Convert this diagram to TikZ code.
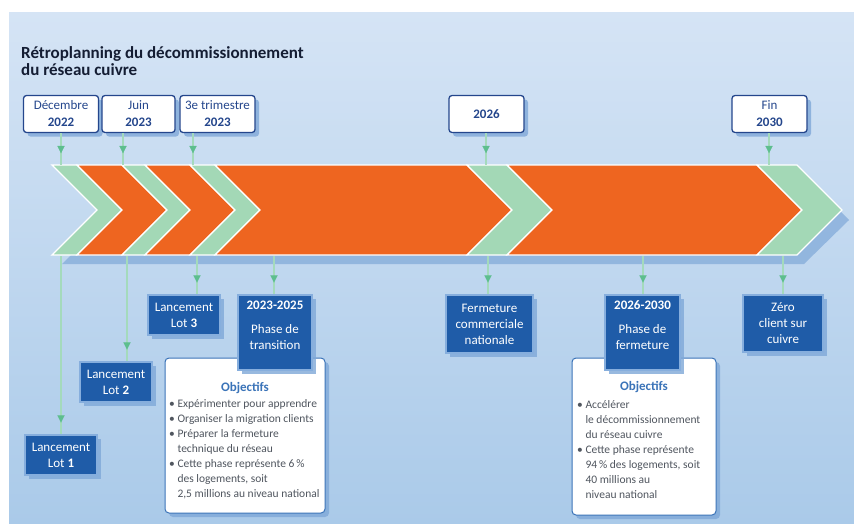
\documentclass[tikz,border=0pt]{standalone}
\usepackage{fontspec}
\setmainfont{Carlito}
\usetikzlibrary{shadows,arrows.meta,calc}
\definecolor{bgtop}{HTML}{D5E4F5}
\definecolor{bgbot}{HTML}{AACAE9}
\definecolor{orangeseg}{HTML}{EE6520}
\definecolor{greenseg}{HTML}{A3D8B6}
\definecolor{navy}{HTML}{24468C}
\definecolor{boxblue}{HTML}{1F5CA8}
\definecolor{boxedge}{HTML}{86AEDD}
\definecolor{shadowblue}{HTML}{7FA8D8}
\definecolor{arrowgreen}{HTML}{A4DABC}
\definecolor{headgreen}{HTML}{5DBE8E}
\definecolor{titlecol}{HTML}{141D33}
\definecolor{objblue}{HTML}{3A73B8}
\definecolor{bodygray}{HTML}{50565F}
\newcommand\chevseg[3]{\fill[#3,draw=white,line width=1.3pt,line join=miter] (#1,165) -- (#2,165) -- (#2+45,210) -- (#2,255) -- (#1,255) -- (#1+45,210) -- cycle;}
\tikzset{
  datebox/.style={draw=navy, fill=white, rounded corners=3pt, line width=1.3pt,
    minimum width=75pt, minimum height=37pt, align=center, text=navy, inner sep=0pt,
    font=\fontsize{13}{17}\selectfont,
    drop shadow={shadow xshift=4pt, shadow yshift=-4pt, fill=shadowblue, opacity=0.8}},
  bluebox/.style={draw=boxedge, fill=boxblue, line width=1.2pt, align=center, text=white,
    inner sep=0pt, font=\fontsize{13}{16}\selectfont,
    drop shadow={shadow xshift=4pt, shadow yshift=-4pt, fill=shadowblue, opacity=0.8}},
  objbox/.style={draw=objblue, fill=white, rounded corners=4pt, line width=1pt, inner sep=0pt,
    drop shadow={shadow xshift=4pt, shadow yshift=-4pt, fill=shadowblue, opacity=0.8}},
  objhead/.style={font=\bfseries\fontsize{13}{15}\selectfont, text=objblue, inner sep=0pt},
  objlist/.style={anchor=north west, align=left, font=\fontsize{11.5}{15}\selectfont, text=bodygray, inner sep=0pt},
  tickline/.style={draw=arrowgreen, line width=1.8pt},
  tickhead/.style={draw=headgreen, line width=0.1pt, fill=headgreen},
}
\newcommand\bul{\textbullet\ }
\newcommand\bulsp{\phantom{\textbullet\ }}
\begin{document}
\begin{tikzpicture}[x=1pt,y=-1pt]
\useasboundingbox (0,0) rectangle (854,523);
\fill[white] (0,0) rectangle (854,523);
\shade[top color=bgtop, bottom color=bgbot] (9,12) rectangle (854,523);

% title
\node[anchor=north west, align=left, font=\bfseries\fontsize{17}{17}\selectfont, text=titlecol, inner sep=0pt] (title) at (21,46) {Rétroplanning du décommissionnement\\du réseau cuivre};

% band shadow
\fill[shadowblue, opacity=0.7] (62,175) -- (804,175) -- (849,220) -- (804,264) -- (62,264) -- (107,220) -- cycle;

% chevrons
\chevseg{52}{77}{greenseg}
\chevseg{77}{122}{orangeseg}
\chevseg{122}{145}{greenseg}
\chevseg{145}{190}{orangeseg}
\chevseg{190}{215}{greenseg}
\chevseg{215}{467}{orangeseg}
\chevseg{467}{507}{greenseg}
\chevseg{507}{757}{orangeseg}
\chevseg{757}{797}{greenseg}

% band anchor coordinates
\coordinate (a1) at (61,165);
\coordinate (a2) at (123,165);
\coordinate (a3) at (193,165);
\coordinate (a4) at (486,165);
\coordinate (a5) at (769,165);
\coordinate (b1) at (61,256);
\coordinate (b2) at (127,256);
\coordinate (b3) at (197,256);
\coordinate (b4) at (274,256);
\coordinate (b5) at (488,256);
\coordinate (b6) at (643,256);
\coordinate (b7) at (783,256);

% top date boxes
\node[datebox] (d1) at (61,114) {Décembre\\\textbf{2022}};
\node[datebox, minimum width=73pt] (d2) at (138.5,114) {Juin\\\textbf{2023}};
\node[datebox] (d3) at (217.5,114) {3e trimestre\\\textbf{2023}};
\node[datebox] (d4) at (486.5,114) {\textbf{2026}};
\node[datebox] (d5) at (769.5,114) {Fin\\\textbf{2030}};

% objectives boxes (behind phase boxes)
\node[objbox, minimum width=160pt, minimum height=155pt] (o1) at (245,435.5) {};
\node[objbox, minimum width=144pt, minimum height=157pt] (o2) at (644,436.5) {};
\node[objhead] (h1) at (245,388) {Objectifs};
\node[objhead] (h2) at (644,387) {Objectifs};
\node[objlist] (l1) at (169,399) {\bul Expérimenter pour apprendre\\
\bul Organiser la migration clients\\
\bul Préparer la fermeture\\
\bulsp technique du réseau\\
\bul Cette phase représente 6\,\%\\
\bulsp des logements, soit\\
\bulsp 2,5 millions au niveau national};
\node[objlist] (l2) at (577,400) {\bul Accélérer\\
\bulsp le décommissionnement\\
\bulsp du réseau cuivre\\
\bul Cette phase représente\\
\bulsp 94\,\% des logements, soit\\
\bulsp 40 millions au\\
\bulsp niveau national};

% blue milestone boxes
\node[bluebox, minimum width=72pt, minimum height=40pt] (lot1) at (61,455) {Lancement\\Lot \textbf{1}};
\node[bluebox, minimum width=72pt, minimum height=40pt] (lot2) at (116,382) {Lancement\\Lot \textbf{2}};
\node[bluebox, minimum width=72pt, minimum height=40pt] (lot3) at (184,315) {Lancement\\Lot \textbf{3}};
\node[bluebox, minimum width=74pt, minimum height=75pt] (p1) at (275,332.5) {\textbf{2023-2025}\\[8pt]Phase de\\transition\\[-2pt]\mbox{}};
\node[bluebox, minimum width=87pt, minimum height=58pt] (ferm) at (489.5,324) {Fermeture\\commerciale\\nationale};
\node[bluebox, minimum width=75pt, minimum height=75pt] (p2) at (642.5,332.5) {\textbf{2026-2030}\\[8pt]Phase de\\fermeture\\[-2pt]\mbox{}};
\node[bluebox, minimum width=80pt, minimum height=57pt] (zero) at (783,323.5) {Zéro\\client sur\\cuivre};

% connectors top (line plus a small downward triangle 13pt above the band)
\foreach \d/\a in {d1/a1,d2/a2,d3/a3,d4/a4,d5/a5}{
  \draw[tickline] (\d.south -| \a) -- (\a);
  \fill[tickhead] ($(\a)+(-3.5,-19)$) -- ($(\a)+(3.5,-19)$) -- ($(\a)+(0,-12)$) -- cycle;
}
% connectors bottom
\foreach \b/\n in {b1/lot1,b2/lot2,b3/lot3,b4/p1,b5/ferm,b6/p2,b7/zero}{
  \draw[tickline] (\b) -- (\n.north -| \b);
  \fill[tickhead] ($(\n.north -| \b)+(-3.5,-19)$) -- ($(\n.north -| \b)+(3.5,-19)$) -- ($(\n.north -| \b)+(0,-12)$) -- cycle;
}
\end{tikzpicture}
\end{document}
